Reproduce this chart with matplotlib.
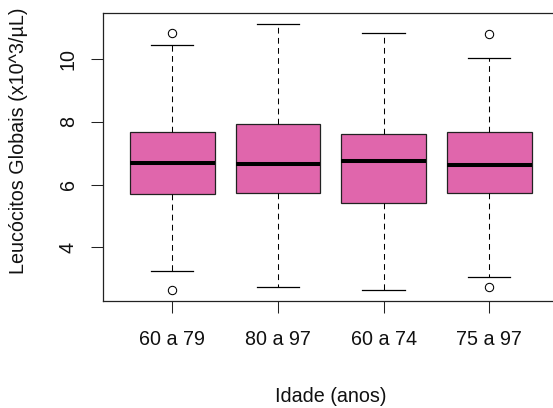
import matplotlib
matplotlib.use("Agg")
import matplotlib.pyplot as plt

plt.rcParams['font.family'] = ['Liberation Sans', 'DejaVu Sans']

# Age groups and five-number summaries of white blood cell counts (x10^3/µL)
groups = ["60 a 79", "80 a 97", "60 a 74", "75 a 97"]
whisker_low = [3.25, 2.73, 2.64, 3.04]
q1 = [5.69, 5.73, 5.42, 5.72]
median = [6.70, 6.65, 6.74, 6.61]
q3 = [7.66, 7.93, 7.62, 7.66]
whisker_high = [10.45, 11.11, 10.84, 10.04]
outliers = [[10.84, 2.64], [], [], [10.79, 2.73]]

yticks = [4, 6, 8, 10]

stats = []
for i, name in enumerate(groups):
    stats.append(dict(label=name, whislo=whisker_low[i], q1=q1[i], med=median[i],
                      q3=q3[i], whishi=whisker_high[i], fliers=outliers[i]))

W, H = 553, 408
fig = plt.figure(figsize=(W / 100, H / 100), dpi=100)
left, right, top, bottom = 103, 558.6, 13.3, 301
ax = fig.add_axes([left / W, 1 - bottom / H, (right - left) / W, (bottom - top) / H])

ax.bxp(stats, positions=range(1, len(groups) + 1), widths=0.8, patch_artist=True,
       boxprops=dict(facecolor="#E066AC", edgecolor="#222222", linewidth=0.9),
       medianprops=dict(color="black", linewidth=2.9, solid_capstyle="butt"),
       whiskerprops=dict(color="black", linewidth=0.75, linestyle=(0, (5.5, 4.2))),
       capprops=dict(color="black", linewidth=0.9),
       capwidths=0.4,
       flierprops=dict(marker="o", markerfacecolor="none", markeredgecolor="black",
                       markersize=6.0, markeredgewidth=0.75))

ax.set_xlim(0.344, 4.656)
ax.set_ylim(2.289, 11.457)
ax.set_yticks(yticks)
ax.set_yticklabels([str(v) for v in yticks])
ax.set_xticks(range(1, len(groups) + 1))
ax.set_xticklabels(groups)

for s in ax.spines.values():
    s.set_linewidth(0.9)
    s.set_color("#222222")

ax.tick_params(axis="both", direction="out", length=8.6, width=0.75, color="#222222",
               labelsize=14.2, labelcolor="#111111")
ax.tick_params(axis="x", pad=12.5)
ax.tick_params(axis="y", pad=9.5)
for lab in ax.get_yticklabels():
    lab.set_rotation(90)
    lab.set_va("center")
    lab.set_ha("right")

ax.set_xlabel("Idade (anos)", fontsize=14.2, color="#111111", va="center")
ax.xaxis.set_label_coords(0.5, -(396 - bottom) / (bottom - top))

# y-axis title: anchored at its first letter, reading upward
fig.text(19 / W, 1 - 274 / H, "Leucócitos Globais (x10^3/µL)", fontsize=14.2,
         color="#111111", rotation=90, rotation_mode="anchor", ha="left", va="center")

fig.savefig("out.png", dpi=100)
